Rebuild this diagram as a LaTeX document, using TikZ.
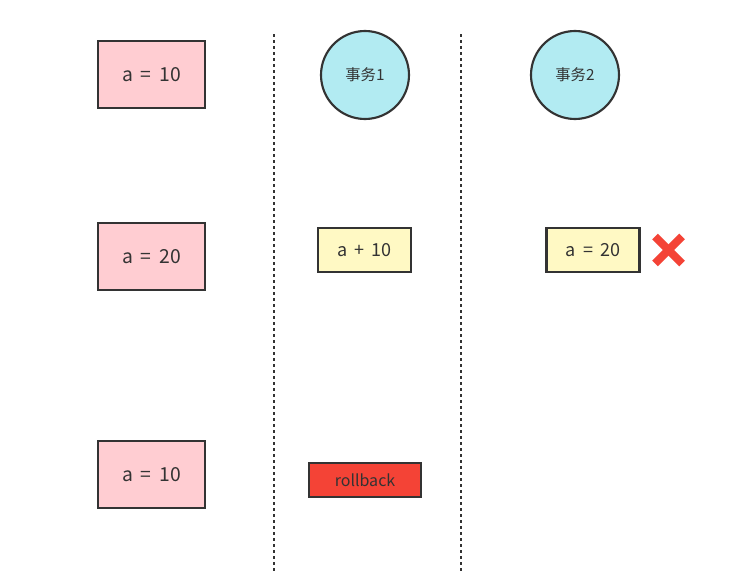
\documentclass[tikz,border=0pt]{standalone}
\usepackage{fontspec}
\usetikzlibrary{calc}
\setmainfont{Noto Sans CJK SC}
\definecolor{edge}{HTML}{333333}
\definecolor{pinkf}{HTML}{FFCDD2}
\definecolor{cyanf}{HTML}{B2EBF2}
\definecolor{yellowf}{HTML}{FFF9C4}
\definecolor{redf}{HTML}{F44336}
\newcommand{\opgap}{\hspace{0.4em}}
\begin{document}
\begin{tikzpicture}[x=0.75pt,y=-0.75pt,
  every node/.style={text=edge},
  valbox/.style={draw=edge,line width=1.6pt,fill=pinkf,minimum width=107*0.75pt,minimum height=67*0.75pt,inner sep=0pt,font=\fontsize{14.5}{16}\selectfont},
  txcircle/.style={draw=edge,line width=1.6pt,fill=cyanf,circle,minimum size=88*0.75pt,inner sep=0pt,font=\fontsize{11.5}{13}\selectfont},
  opbox/.style={draw=edge,line width=1.6pt,fill=yellowf,minimum width=93*0.75pt,minimum height=44*0.75pt,inner sep=0pt,font=\fontsize{13.5}{15}\selectfont},
  rbbox/.style={draw=edge,line width=1.6pt,fill=redf,minimum width=112*0.75pt,minimum height=34*0.75pt,inner sep=0pt,font=\fontsize{12}{14}\selectfont},
  divider/.style={draw=edge,line width=2pt,dash pattern=on 2pt off 2.5pt}]
\useasboundingbox (0,0) rectangle (754,586);
\fill[white] (0,0) rectangle (754,586);
% dividers
\coordinate (d1t) at (274,34); \coordinate (d1b) at (274,573);
\coordinate (d2t) at (461,34); \coordinate (d2b) at (461,573);
\draw[divider] (d1t) -- (d1b);
\draw[divider] (d2t) -- (d2b);
% value column
\node[valbox] (v1) at (151.5,74.5) {a\opgap=\opgap10};
\node[valbox] (v2) at (151.5,256.5) {a\opgap=\opgap20};
\node[valbox] (v3) at (151.5,474.5) {a\opgap=\opgap10};
% transactions
\node[txcircle] (t1) at (365,75) {事务1};
\node[txcircle] (t2) at (575,75) {事务2};
\node[opbox] (o1) at (364.5,250) {a\opgap+\opgap10};
\node[opbox] (o2) at (593,250) {a\opgap=\opgap20};
\node[rbbox] (rb) at (365,480) {rollback};
% cross mark
\coordinate (xc) at (668.5,250);
\draw[redf,line width=6pt] ($(xc)+(-13.5,-13.5)$) -- ($(xc)+(13.5,13.5)$);
\draw[redf,line width=6pt] ($(xc)+(-13.5,13.5)$) -- ($(xc)+(13.5,-13.5)$);
\end{tikzpicture}
\end{document}
